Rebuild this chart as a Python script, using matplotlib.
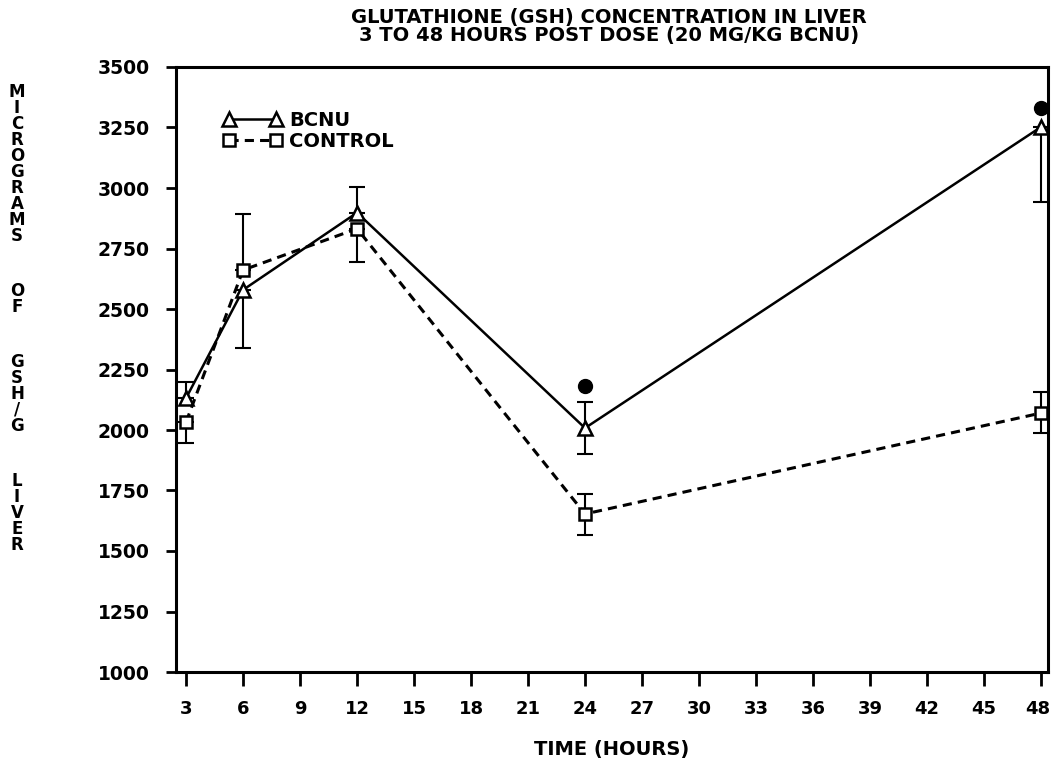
import matplotlib
matplotlib.use("Agg")
import matplotlib.pyplot as plt
from matplotlib.transforms import ScaledTranslation

# data
hours = [3, 6, 12, 24, 48]
bcnu = [2132, 2579, 2898, 2008, 3252]
bcnu_err_low = [0, 242, 0, 107, 310]
bcnu_err_high = [66, 0, 108, 108, 0]
control = [2033, 2661, 2832, 1653, 2070]
control_err_low = [87, 0, 136, 87, 82]
control_err_high = [0, 230, 0, 83, 87]
sig_hours = [24, 48]
sig_values = [2182, 3331]

x_ticks = list(range(3, 49, 3))
y_ticks = list(range(1000, 3501, 250))
title_lines = ["GLUTATHIONE (GSH) CONCENTRATION IN LIVER",
               "3 TO 48 HOURS POST DOSE (20 MG/KG BCNU)"]
y_label = "MICROGRAMS OF GSH/G LIVER"
x_label = "TIME (HOURS)"

plt.rcParams["font.family"] = ["DejaVu Sans"]
plt.rcParams["font.weight"] = "bold"

W, H = 1052, 763
fig = plt.figure(figsize=(W / 100, H / 100), dpi=100)
ax = fig.add_axes([176 / W, 1 - 672 / H, 872 / W, 605 / H])

line_b, = ax.plot(hours, bcnu, color="black", lw=1.8, marker="^", ms=10,
                  mfc="white", mec="black", mew=1.8, label="BCNU", zorder=3)
ax.errorbar(hours, bcnu, yerr=[bcnu_err_low, bcnu_err_high], fmt="none",
            ecolor="black", elinewidth=1.5, capsize=6, capthick=1.5, zorder=2)
line_c, = ax.plot(hours, control, color="black", lw=2.2, ls=(0, (3, 2)),
                  marker="s", ms=9, mfc="white", mec="black", mew=1.8,
                  label="CONTROL", zorder=3)
ax.errorbar(hours, control, yerr=[control_err_low, control_err_high], fmt="none",
            ecolor="black", elinewidth=1.5, capsize=6, capthick=1.5, zorder=2)
ax.plot(sig_hours, sig_values, ls="none", marker="o", ms=10, color="black", zorder=4)

ax.set_xlim(2.47, 48.37)
ax.set_ylim(1000, 3500)
ax.set_xticks(x_ticks)
ax.set_yticks(y_ticks)
ax.tick_params(axis="x", direction="out", length=10, width=2, pad=10, labelsize=13)
ax.tick_params(axis="y", direction="out", length=7, width=2, pad=12, labelsize=13.5)
for lab in ax.get_xticklabels() + ax.get_yticklabels():
    lab.set_fontweight("bold")
# last label sits against the right edge in the original
last = ax.get_xticklabels()[-1]
last.set_transform(last.get_transform() + ScaledTranslation(-3 / 100, 0, fig.dpi_scale_trans))
for sp in ax.spines.values():
    sp.set_linewidth(2.2)

ax.legend(handles=[line_b, line_c], loc="upper left", bbox_to_anchor=(0.054, 0.927),
          frameon=False, numpoints=2, handlelength=3.0, handletextpad=0.4,
          labelspacing=0.08, borderpad=0, borderaxespad=0,
          prop={"size": 14, "weight": "bold"})

fig.text(609 / W, 1 - 18 / H, title_lines[0], ha="center", va="center",
         fontsize=14, fontweight="bold")
fig.text(609 / W, 1 - 35 / H, title_lines[1], ha="center", va="center",
         fontsize=14, fontweight="bold")
fig.text(612 / W, 1 - 750 / H, x_label, ha="center", va="center",
         fontsize=14, fontweight="bold")

# vertical stacked y label: one letter per row, wider gap between words
y_px = 92
for word in y_label.split(" "):
    for ch in word:
        fig.text(17 / W, 1 - y_px / H, ch, ha="center", va="center",
                 fontsize=12, fontweight="bold")
        y_px += 16
    y_px += 55 - 16

fig.savefig("out.png", dpi=100)
